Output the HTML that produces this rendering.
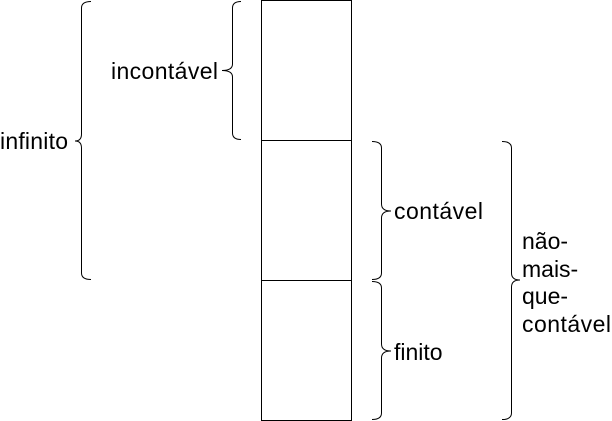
<!DOCTYPE html>
<html><head><meta charset="utf-8"><style>
html,body{margin:0;padding:0;background:#fff;}
svg{display:block;}
text{font-family:"Liberation Sans",Arial,sans-serif;font-size:23px;fill:#000;}
</style></head><body>
<svg width="612" height="421" viewBox="0 0 612 421" xmlns="http://www.w3.org/2000/svg">
<g fill="none" stroke="#000" stroke-width="1">
<rect x="261.5" y="0.5" width="90" height="140"/>
<rect x="261.5" y="140.5" width="90" height="140"/>
<rect x="261.5" y="280.5" width="90" height="140"/>
<!-- infinito brace -->
<path d="M91,1.5 Q81.5,1.5 81.5,8 L81.5,134 Q81.5,141 75,141 Q81.5,141 81.5,148 L81.5,273 Q81.5,279.5 91,279.5"/>
<!-- incontavel brace -->
<path d="M241,1.5 Q232.5,1.5 232.5,8 L232.5,64 Q232.5,70.5 222,70.5 Q232.5,70.5 232.5,77 L232.5,133 Q232.5,139.5 241,139.5"/>
<!-- contavel brace -->
<path d="M372,141.5 Q381.5,141.5 381.5,148 L381.5,204 Q381.5,211 391,211 Q381.5,211 381.5,218 L381.5,273 Q381.5,279.5 372,279.5"/>
<!-- finito brace -->
<path d="M372,281.5 Q381.5,281.5 381.5,288 L381.5,344 Q381.5,351 391,351 Q381.5,351 381.5,358 L381.5,413 Q381.5,419.5 372,419.5"/>
<!-- big brace -->
<path d="M502,141.5 Q511.5,141.5 511.5,148 L511.5,273 Q511.5,280 520,280 Q511.5,280 511.5,287 L511.5,413 Q511.5,419.5 502,419.5"/>
</g>
<text x="0" y="149" textLength="68">infinito</text>
<text x="111" y="79" textLength="107">incontável</text>
<text x="394" y="219" textLength="89">contável</text>
<text x="394" y="360">finito</text>
<text x="522" y="249">não-</text>
<text x="522" y="277">mais-</text>
<text x="522" y="304">que-</text>
<text x="522" y="332" textLength="89">contável</text>
</svg>
</body></html>
